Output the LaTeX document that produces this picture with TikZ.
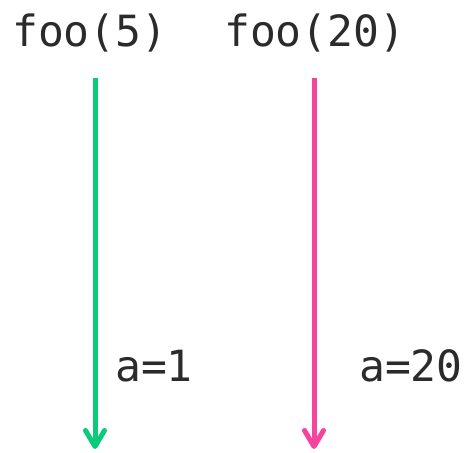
\documentclass[tikz,border=0pt]{standalone}
\usepackage{fontspec}
\setmonofont{DejaVu Sans Mono}
\usetikzlibrary{arrows.meta}
\definecolor{callgreen}{HTML}{0ACB77}
\definecolor{callpink}{HTML}{F4449D}
\definecolor{codeink}{HTML}{2B2B2B}
\begin{document}
\begin{tikzpicture}[x=1pt,y=1pt,
  codetext/.style={font=\ttfamily\fontsize{43}{43}\selectfont, text=codeink, inner sep=0pt, anchor=base west},
  callarrow/.style={line width=5pt, -{Straight Barb[length=16pt,width=19pt,line cap=round,line join=round]}}]
  \useasboundingbox (0,0) rectangle (468,452);
  % call labels
  \node[codetext] (call5) at (12,405) {foo(5)};
  \node[codetext] (call20) at (224,405) {foo(20)};
  % results
  \node[codetext] (res1) at (115,70) {a=1};
  \node[codetext] (res20) at (359,70) {a=20};
  % execution lines
  \coordinate (top5) at (95,374);
  \coordinate (end5) at (95,3);
  \coordinate (top20) at (314,374);
  \coordinate (end20) at (314,3);
  \draw[callarrow, callgreen] (top5) -- (end5);
  \draw[callarrow, callpink] (top20) -- (end20);
\end{tikzpicture}
\end{document}
